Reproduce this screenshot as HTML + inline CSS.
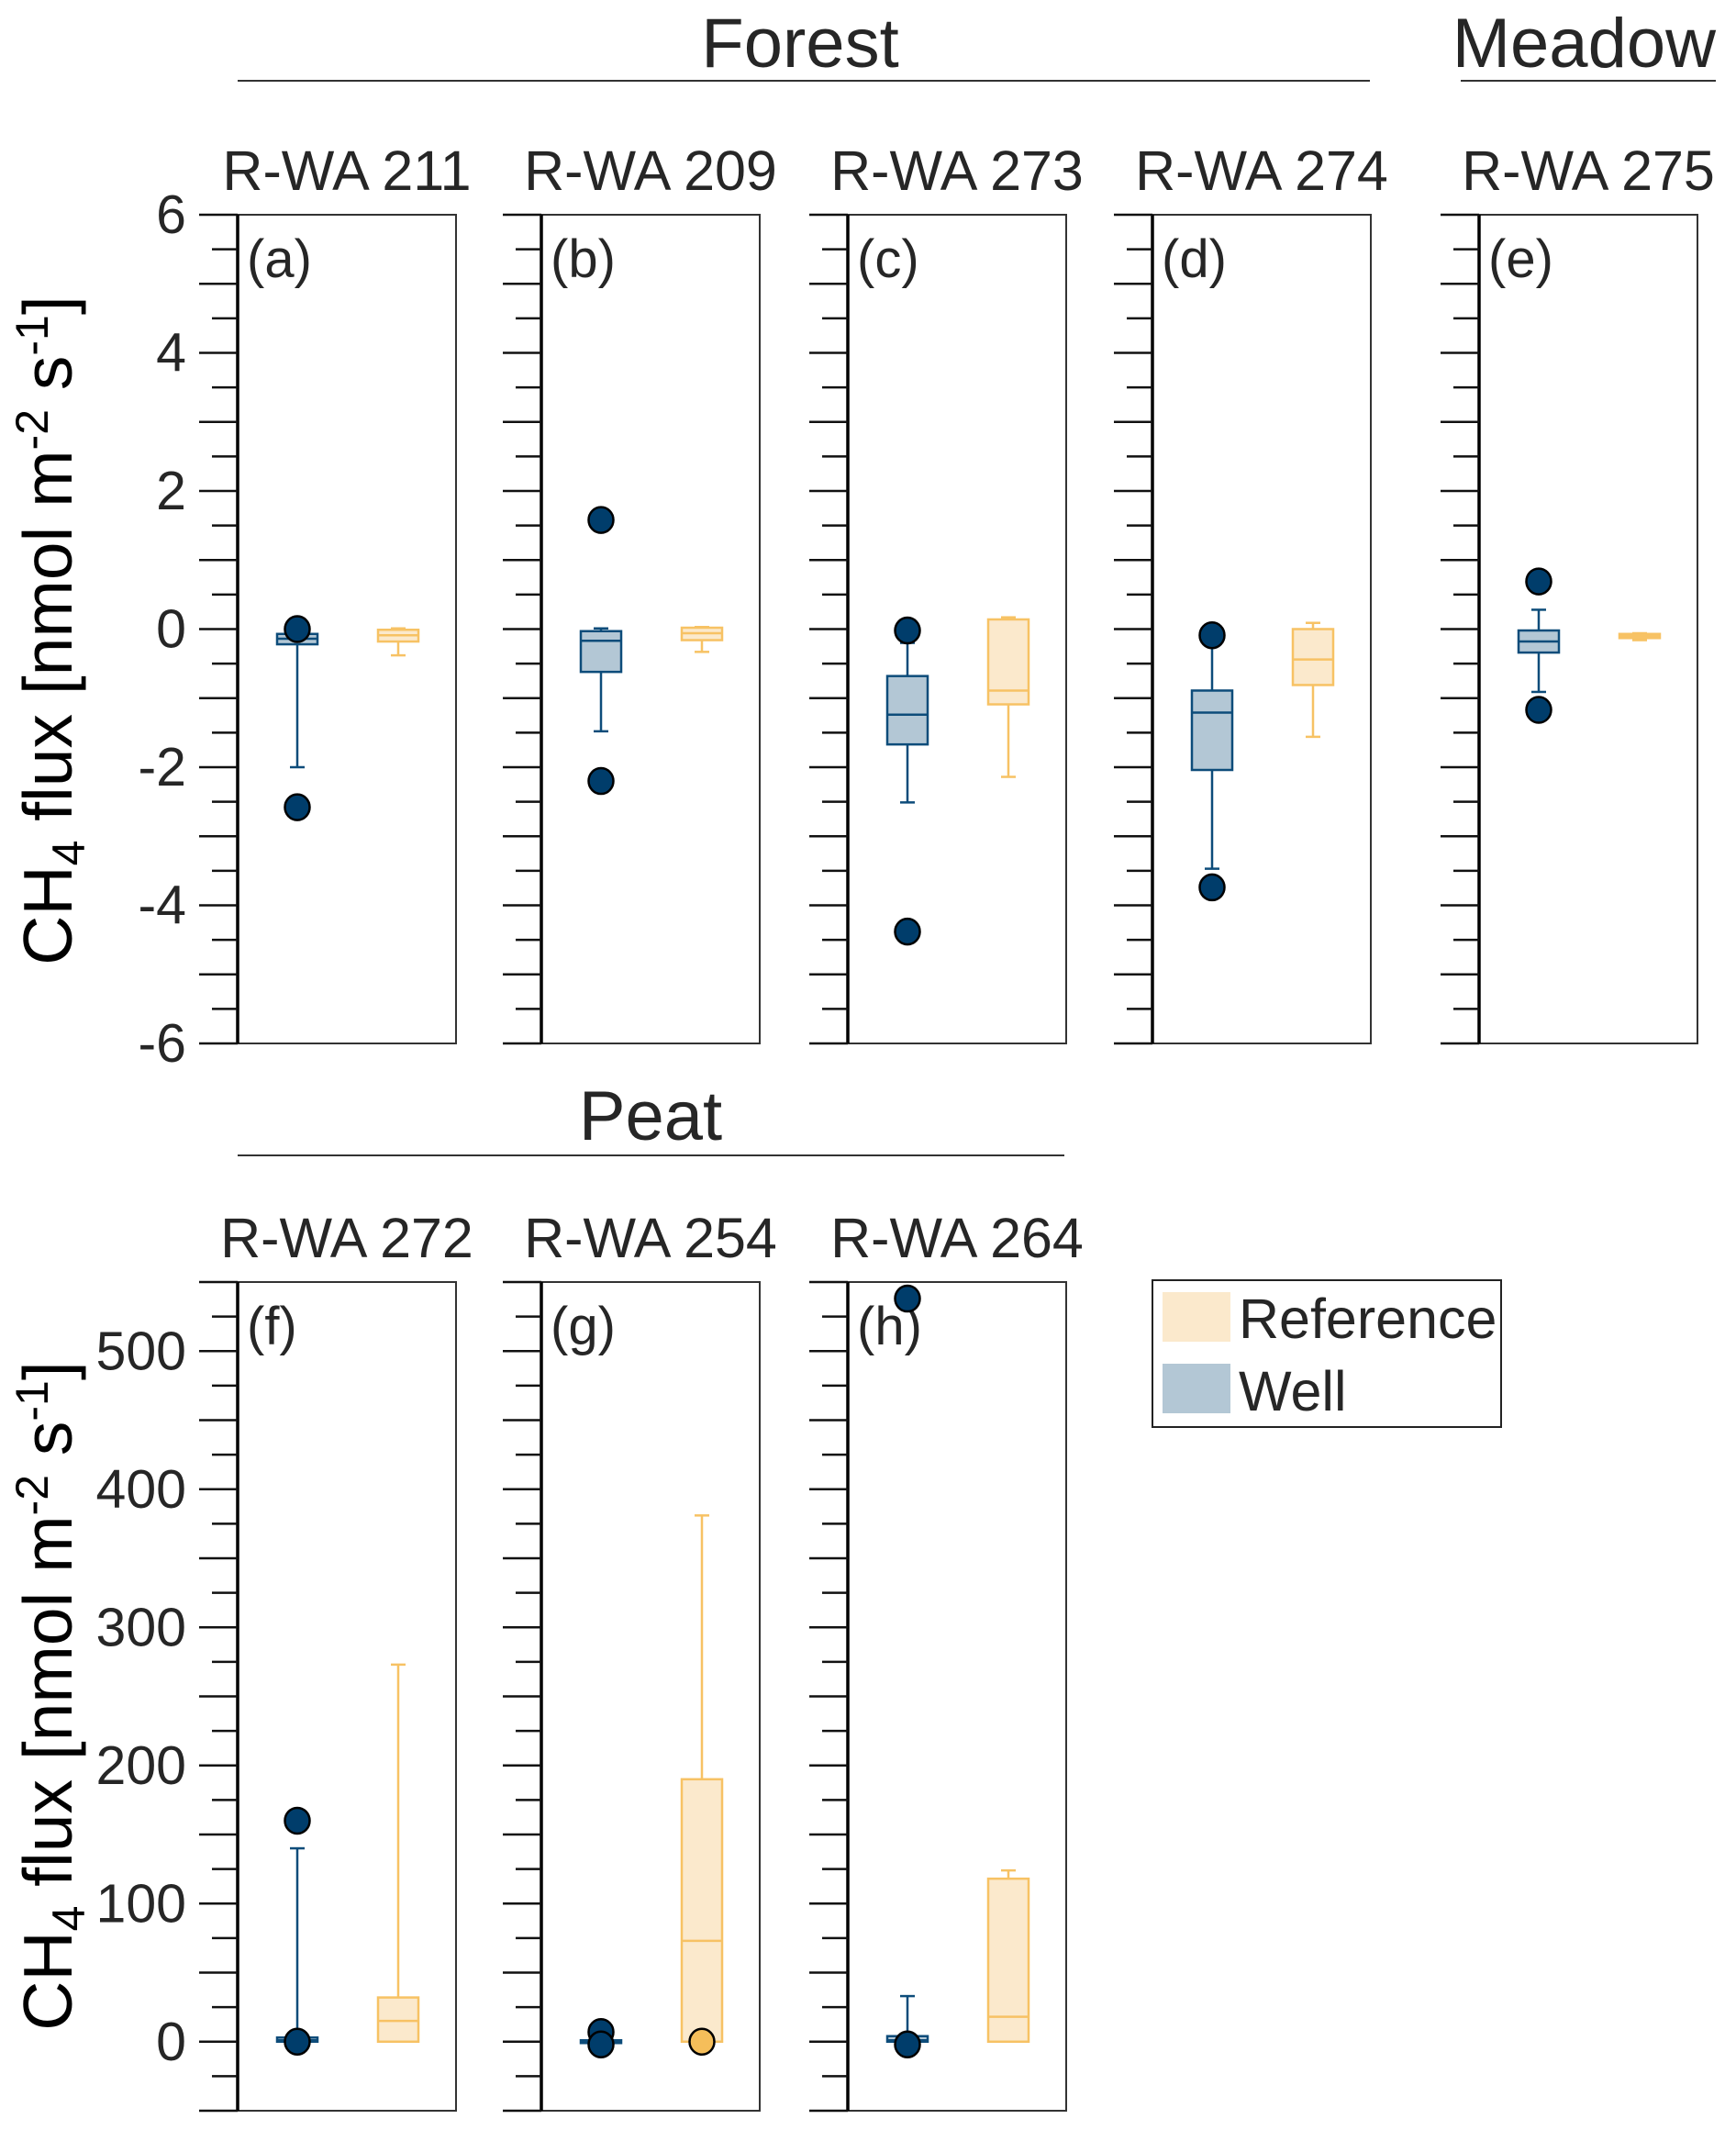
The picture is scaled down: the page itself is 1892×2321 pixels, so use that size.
<!DOCTYPE html>
<html><head><meta charset="utf-8"><style>
html,body{margin:0;padding:0;background:#fff;}
svg{display:block;font-family:"Liberation Sans",Arial,sans-serif;}
</style></head><body>
<svg id="chart" width="1892" height="2321" viewBox="0 0 1892 2321" xmlns="http://www.w3.org/2000/svg">
<g id="layer"></g>
</svg>
<script>
// ---- data ----
const panelLabels = ["(a)","(b)","(c)","(d)","(e)","(f)","(g)","(h)"];
const siteNames = ["R-WA 211","R-WA 209","R-WA 273","R-WA 274","R-WA 275","R-WA 272","R-WA 254","R-WA 264"];
// box stats: [low whisker, q1, median, q3, high whisker]
const wellStats = [
  [-2.0,-0.22,-0.14,-0.07,-0.07],
  [-1.48,-0.62,-0.17,-0.03,0.01],
  [-2.51,-1.67,-1.24,-0.68,-0.2],
  [-3.47,-2.04,-1.21,-0.89,-0.2],
  [-0.91,-0.34,-0.18,-0.02,0.28],
  [0,0,1,3,140],
  [-1,-1,0,1,1],
  [0,0,1,4,33]
];
const refStats = [
  [-0.38,-0.18,-0.09,-0.01,0.01],
  [-0.33,-0.16,-0.06,0.02,0.03],
  [-2.14,-1.09,-0.89,0.14,0.17],
  [-1.56,-0.81,-0.44,0.0,0.09],
  [-0.16,-0.13,-0.1,-0.07,-0.06],
  [0,0,15,32,273],
  [0,0,73,190,381],
  [0,0,18,118,124]
];
const wellOutliers = [[0.0,-2.58],[1.58,-2.2],[-0.02,-4.38],[-0.09,-3.74],[0.69,-1.17],[160,0],[7,-2],[538,-2]];
const refOutliers = [[],[],[],[],[],[],[0],[]];
const topTicks = [6,4,2,0,-2,-4,-6];
const bottomTicks = [500,400,300,200,100,0];

// ---- layout ----
const NS="http://www.w3.org/2000/svg";
const layer=document.getElementById('layer');
function mk(tag,attrs,parent){const e=document.createElementNS(NS,tag);for(const k in attrs)e.setAttribute(k,attrs[k]);(parent||layer).appendChild(e);return e;}
const axisX=[259,590,924,1256,1612,259,590,924];
const panelW=238;
const rows=[{top:234,bottom:1137,min:-6,max:6,minor:0.5,major:1,ticks:topTicks},
            {top:1397,bottom:2300,min:-50,max:550,minor:25,major:50,ticks:bottomTicks}];
function yScale(r,v){return r.bottom-(v-r.min)/(r.max-r.min)*(r.bottom-r.top);}

function text(str,x,y,size,anchor,name,parent){
  const t=mk('text',{x:x,y:y,'font-size':size,'text-anchor':anchor||'middle',fill:'#262626'},parent);
  t.textContent=str;
  
  
  return t;
}

// group headers
text("Forest",872,73,76,'middle','forest-header');
mk('line',{x1:259,y1:88,x2:1493,y2:88,stroke:'#333','stroke-width':2});
text("Meadow",1870,73,76,'end','meadow-header');
mk('line',{x1:1592,y1:88,x2:1870,y2:88,stroke:'#333','stroke-width':2});
text("Peat",709,1242,76,'middle','peat-header');
mk('line',{x1:259,y1:1259,x2:1160,y2:1259,stroke:'#333','stroke-width':2});

function drawBox(g,r,cx,s,fill,stroke,name){
  const w=44,cap=16;
  const bg=mk('g',{},g);
  
  
  const [lo,q1,md,q3,hi]=s;
  mk('line',{x1:cx,y1:yScale(r,lo),x2:cx,y2:yScale(r,q1),stroke:stroke,'stroke-width':2.5},bg);
  mk('line',{x1:cx,y1:yScale(r,q3),x2:cx,y2:yScale(r,hi),stroke:stroke,'stroke-width':2.5},bg);
  mk('line',{x1:cx-cap/2,y1:yScale(r,lo),x2:cx+cap/2,y2:yScale(r,lo),stroke:stroke,'stroke-width':2.5},bg);
  mk('line',{x1:cx-cap/2,y1:yScale(r,hi),x2:cx+cap/2,y2:yScale(r,hi),stroke:stroke,'stroke-width':2.5},bg);
  const yt=yScale(r,q3),yb=yScale(r,q1);
  mk('rect',{x:cx-w/2,y:yt,width:w,height:Math.max(yb-yt,1.5),fill:fill,stroke:stroke,'stroke-width':2.5},bg);
  mk('line',{x1:cx-w/2,y1:yScale(r,md),x2:cx+w/2,y2:yScale(r,md),stroke:stroke,'stroke-width':2.5},bg);
}

for(let i=0;i<8;i++){
  const r=rows[i<5?0:1];
  const ax=axisX[i];
  const g=mk('g',{});
  
  
  text(siteNames[i],ax+panelW/2,r.top-27,61,'middle','site-title',g);
  mk('rect',{x:ax,y:r.top,width:panelW,height:r.bottom-r.top,fill:'none',stroke:'#333','stroke-width':2},g);
  mk('line',{x1:ax,y1:r.top,x2:ax,y2:r.bottom,stroke:'#000','stroke-width':3.5},g);
  const n=Math.round((r.max-r.min)/r.minor);
  for(let k=0;k<=n;k++){
    const v=r.min+k*r.minor;
    const isMaj=Math.abs(v/r.major-Math.round(v/r.major))<1e-6;
    const y=yScale(r,v);
    mk('line',{x1:ax-(isMaj?42:28),y1:y,x2:ax,y2:y,stroke:'#111','stroke-width':2.5},g);
  }
  if(i===0||i===5){
    r.ticks.forEach(v=>{
      text(String(v),ax-56,yScale(r,v)+20,59,'end','y-tick-label',g);
    });
  }
  text(panelLabels[i],ax+10,r.top+68,58,'start','panel-label',g);
  drawBox(g,r,ax+175,refStats[i],'#fbe9cc','#f7c264','reference-box');
  drawBox(g,r,ax+65,wellStats[i],'#b3c7d5','#0d4c7a','well-box');
  wellOutliers[i].forEach(v=>{
    const c=mk('ellipse',{cx:ax+65,cy:yScale(r,v),rx:13.5,ry:14,fill:'#003d6b',stroke:'#000','stroke-width':2.5},g);
    
    
  });
  refOutliers[i].forEach(v=>{
    const c=mk('ellipse',{cx:ax+175,cy:yScale(r,v),rx:13.5,ry:14,fill:'#f5be5a',stroke:'#000','stroke-width':2.5},g);
    
    
  });
}

function yTitle(cy,name){
  const t=mk('text',{x:0,y:0,'font-size':75,'text-anchor':'middle',fill:'#000',transform:'translate(78,'+cy+') rotate(-90)'});
  
  
  t.innerHTML='CH<tspan font-size="50" dy="14">4</tspan><tspan dy="-14"> flux [nmol m</tspan><tspan font-size="50" dy="-26">-2</tspan><tspan dy="26"> s</tspan><tspan font-size="50" dy="-26">-1</tspan><tspan dy="26">]</tspan>';
}
yTitle(687,'y-axis-title-top');
yTitle(1848,'y-axis-title-bottom');

const lg=mk('g',{});


mk('rect',{x:1256,y:1395,width:380,height:160,fill:'#fff',stroke:'#222','stroke-width':2},lg);
const s1=mk('rect',{x:1267,y:1408,width:74,height:54,fill:'#fbe9cc'},lg);


const s2=mk('rect',{x:1267,y:1486,width:74,height:54,fill:'#b3c7d5'},lg);


text("Reference",1350,1458,61,'start','legend-entry-reference',lg);
text("Well",1350,1537,61,'start','legend-entry-well',lg);
</script>
</body></html>
